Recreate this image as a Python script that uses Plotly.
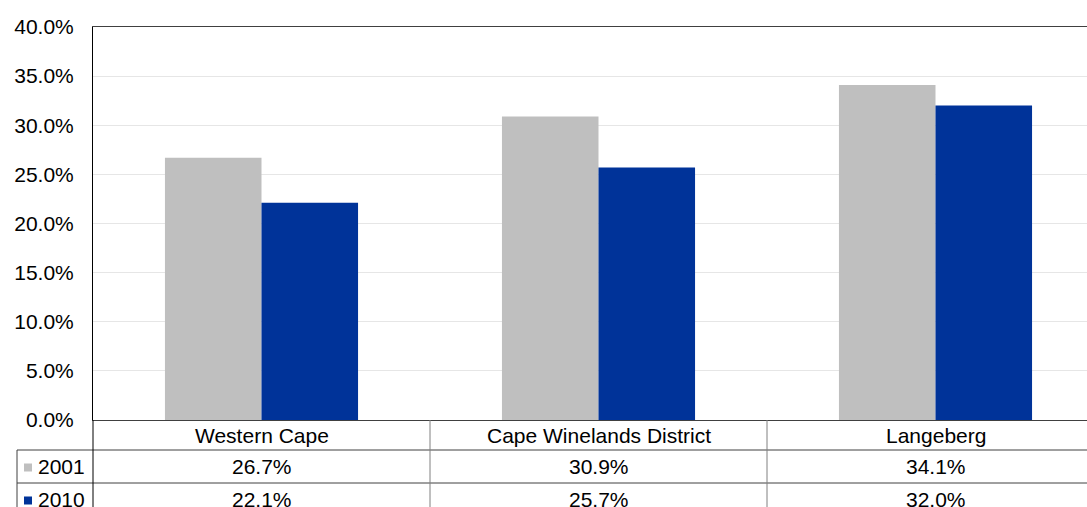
import plotly.graph_objects as go

categories = ["Western Cape", "Cape Winelands District", "Langeberg"]
series_names = ["2001", "2010"]
values_2001 = [26.7, 30.9, 34.1]
values_2010 = [22.1, 25.7, 32.0]
colors = ["#BFBFBF", "#003399"]
tick_vals = [0, 5, 10, 15, 20, 25, 30, 35, 40]
tick_text = [f"{v:.1f}%" for v in tick_vals]

W, H = 1087, 507
L, T, B = 93, 27, 87
PW = W - L
PH = H - T - B
CAT_PX = 337  # category width in pixels
x_range = [-0.5, -0.5 + PW / CAT_PX]
FONT = "Liberation Sans, Arial, sans-serif"
FS = 21

fig = go.Figure()
for name, vals, col in zip(series_names, [values_2001, values_2010], colors):
    fig.add_trace(go.Bar(x=list(range(len(categories))), y=vals, name=name,
                         marker=dict(color=col, line=dict(width=0)), showlegend=False))


def xp(xdata):
    return (xdata - x_range[0]) / (x_range[1] - x_range[0])


def ypix(ypx):
    return (H - B - ypx) / PH


def xpix(xpx):
    return (xpx - L) / PW


row_top = H - B
rows_y = [row_top, row_top + 30, row_top + 63, row_top + 96]
shapes = []
line_col = "#404040"
# horizontal table lines
for r in (1, 2):
    shapes.append(dict(type="line", xref="paper", yref="paper", x0=xpix(17), x1=1.02,
                       y0=ypix(rows_y[r]), y1=ypix(rows_y[r]), line=dict(color=line_col, width=1)))
# left vertical lines
shapes.append(dict(type="line", xref="paper", yref="paper", x0=0, x1=0,
                   y0=0, y1=ypix(H + 20), line=dict(color="#000000", width=1)))
shapes.append(dict(type="line", xref="paper", yref="paper", x0=xpix(17), x1=xpix(17),
                   y0=ypix(rows_y[1]), y1=ypix(H + 20), line=dict(color=line_col, width=1)))
# category separators
for k in range(len(categories) - 1):
    shapes.append(dict(type="line", xref="paper", yref="paper", x0=xp(k + 0.5), x1=xp(k + 0.5),
                       y0=0, y1=ypix(H + 20), line=dict(color="#808080", width=1)))
# legend squares in row labels
for i, col in enumerate(colors):
    yc = (rows_y[i + 1] + rows_y[i + 2]) / 2
    shapes.append(dict(type="rect", xref="paper", yref="paper", x0=xpix(24), x1=xpix(32),
                       y0=ypix(yc + 5), y1=ypix(yc - 3), fillcolor=col, line=dict(width=0)))

annotations = []
for k, c in enumerate(categories):
    annotations.append(dict(x=xp(k), y=ypix((rows_y[0] + rows_y[1]) / 2), xref="paper", yref="paper",
                            text=c, showarrow=False, xanchor="center", yanchor="middle",
                            font=dict(family=FONT, size=FS, color="#000")))
for i, (name, vals) in enumerate(zip(series_names, [values_2001, values_2010])):
    yc = (rows_y[i + 1] + rows_y[i + 2]) / 2
    annotations.append(dict(x=xpix(36), y=ypix(yc), xref="paper", yref="paper", text=name,
                            showarrow=False, xanchor="left", yanchor="middle",
                            font=dict(family=FONT, size=FS, color="#000")))
    for k, v in enumerate(vals):
        annotations.append(dict(x=xp(k), y=ypix(yc), xref="paper", yref="paper",
                                text=f"{v:.1f}%", showarrow=False, xanchor="center", yanchor="middle",
                                font=dict(family=FONT, size=FS, color="#000")))

fig.update_layout(
    width=W, height=H,
    margin=dict(l=L, r=0, t=T, b=B, pad=0),
    paper_bgcolor="white", plot_bgcolor="white",
    barmode="group", bargap=0.427, bargroupgap=0,
    font=dict(family=FONT, size=FS, color="#000"),
    xaxis=dict(range=x_range, showticklabels=False, showgrid=False, zeroline=False,
               showline=True, linecolor=line_col, linewidth=1, mirror=True, ticks=""),
    yaxis=dict(range=[0, 40], tickvals=tick_vals, ticktext=tick_text, showgrid=True,
               gridcolor="#E6E6E6", gridwidth=1, zeroline=False, showline=True,
               linecolor="#000", linewidth=1, ticks="", ticklabelstandoff=14,
               tickfont=dict(family=FONT, size=FS, color="#000")),
    shapes=shapes, annotations=annotations,
)

fig.write_html("out.html", config={"displayModeBar": False},
               post_script="document.body.style.margin='0';document.body.style.overflow='hidden';")
